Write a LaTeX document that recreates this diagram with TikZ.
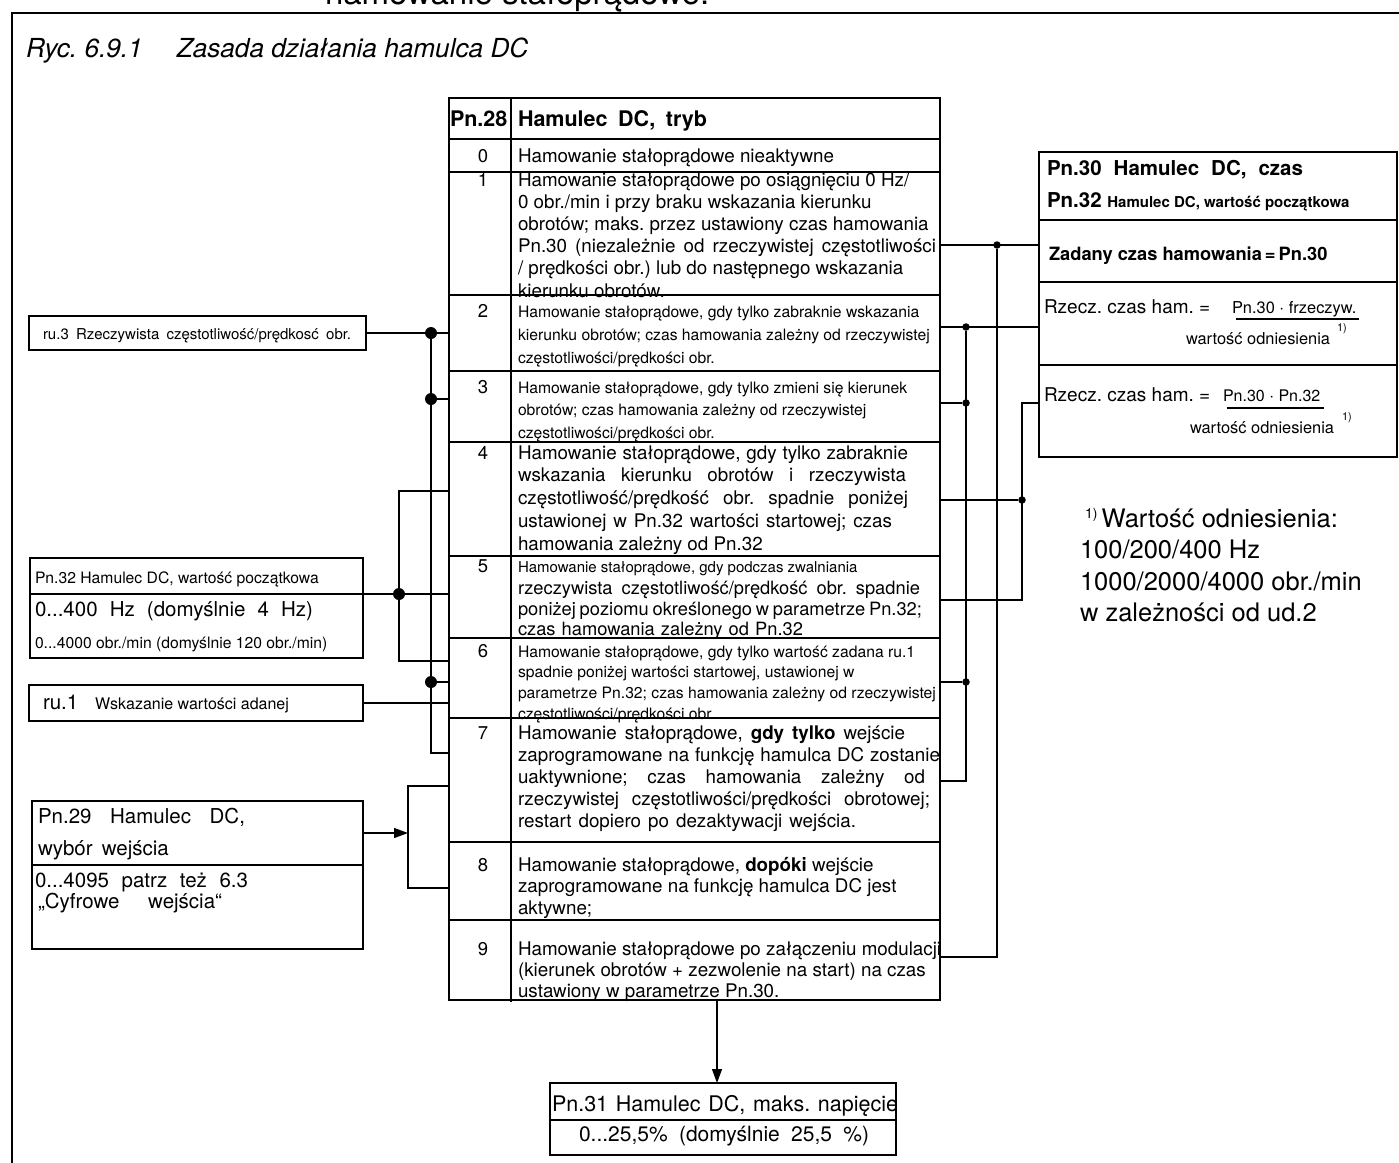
\documentclass[tikz,border=0pt]{standalone}
\usepackage{fontspec}
\setmainfont{TeX Gyre Heros}
\usetikzlibrary{arrows.meta}
\newcommand{\fs}[2]{\fontsize{#1pt}{#2pt}\selectfont}
\newcommand{\jl}[2]{\makebox[#1pt][s]{#2}}
\frenchspacing
\begin{document}
\begin{tikzpicture}[x=1pt,y=-1pt,
  box/.style={draw, line width=1.3pt, inner sep=0pt, outer sep=0pt, anchor=north west},
  txt/.style={anchor=base west, inner sep=0pt, outer sep=0pt},
  num/.style={anchor=base, inner sep=0pt, outer sep=0pt, font=\fs{18.5}{20}},
  ln/.style={line width=1.2pt},
  dot/.style={circle, fill, inner sep=0pt, minimum size=12pt},
  sdot/.style={circle, fill, inner sep=0pt, minimum size=7.5pt},
  arr/.style={ln, -{Triangle[length=14pt,width=10pt]}}]
\useasboundingbox (0,0) rectangle (1399,1162);
% frame and cut text
\draw[line width=2.6pt] (12,1175) -- (12,13) -- (1410,13);
\node[txt] (topcut) at (325,4) {\fs{33}{38}hamowanie stałoprądowe.};
\node[txt] (title) at (26,57) {\fs{26.2}{30}\itshape Ryc. 6.9.1\hspace{34pt}Zasada działania hamulca DC};
% main table
\node[box, minimum width=491pt, minimum height=902pt] (tbl) at (449,98) {};
\draw[ln] (511,98) -- (511,1002);
\foreach \yy in {139,172,295,371,442,556,638,718,842,920} \draw[ln] (449,\yy) -- (940,\yy);
\node[txt] (h1) at (450,126.5) {\fs{21.5}{25}\bfseries Pn.28};
\node[txt] (h2) at (518,126.5) {\fs{21.5}{25}\bfseries\jl{189}{Hamulec DC, tryb}};
\node[num] (n0) at (483,162) {0};
\node[num] (n1) at (483,186) {1};
\node[num] (n2) at (483,317) {2};
\node[num] (n3) at (483,393) {3};
\node[num] (n4) at (483,459) {4};
\node[num] (n5) at (483,572) {5};
\node[num] (n6) at (483,657) {6};
\node[num] (n7) at (483,739) {7};
\node[num] (n8) at (483,871) {8};
\node[num] (n9) at (483,955.5) {9};
\node[txt] (r0) at (518,162) {\fs{18.8}{22}Hamowanie stałoprądowe nieaktywne};
\node[txt] (r1) at (518,186) {\parbox[t]{430pt}{\fs{18.8}{22.2}Hamowanie stałoprądowe po osiągnięciu 0 Hz/\\0 obr./min i przy braku wskazania kierunku\\obrotów; maks. przez ustawiony czas hamowania\\\jl{418}{Pn.30 (niezależnie od rzeczywistej częstotliwości}\\/ prędkości obr.) lub do następnego wskazania\\kierunku obrotów.}};
\node[txt] (r2) at (518,317) {\parbox[t]{430pt}{\fs{15.7}{23}Hamowanie stałoprądowe, gdy tylko zabraknie wskazania\\kierunku obrotów; czas hamowania zależny od rzeczywistej\\częstotliwości/prędkości obr.}};
\node[txt] (r3) at (518,393) {\parbox[t]{430pt}{\fs{15.7}{22.5}Hamowanie stałoprądowe, gdy tylko zmieni się kierunek\\obrotów; czas hamowania zależny od rzeczywistej\\częstotliwości/prędkości obr.}};
\node[txt] (r4) at (518,459) {\parbox[t]{430pt}{\fs{18.8}{22.8}\jl{390}{Hamowanie stałoprądowe, gdy tylko zabraknie}\\\jl{388}{wskazania kierunku obrotów i rzeczywista}\\\jl{390}{częstotliwość/prędkość obr. spadnie poniżej}\\\jl{374}{ustawionej w Pn.32 wartości startowej; czas}\\hamowania zależny od Pn.32}};
\node[txt] (r5) at (518,572) {\parbox[t]{430pt}{\fs{18.3}{20.5}{\fontsize{15}{20.5}\selectfont Hamowanie stałoprądowe, gdy podczas zwalniania}\\[2pt]\jl{402}{rzeczywista częstotliwość/prędkość obr. spadnie}\\\jl{404}{poniżej poziomu określonego w parametrze Pn.32;}\\\jl{285}{czas hamowania zależny od Pn.32}}};
\node[txt] (r6) at (518,657) {\parbox[t]{430pt}{\fs{15.7}{20.8}Hamowanie stałoprądowe, gdy tylko wartość zadana ru.1\\spadnie poniżej wartości startowej, ustawionej w\\parametrze Pn.32; czas hamowania zależny od rzeczywistej\\częstotliwości/prędkości obr.}};
\node[txt] (r7) at (518,739) {\parbox[t]{430pt}{\fs{18.8}{22}\jl{387}{Hamowanie stałoprądowe, \textbf{gdy tylko} wejście}\\\jl{422}{zaprogramowane na funkcję hamulca DC zostanie}\\\jl{407}{uaktywnione; czas hamowania zależny od}\\\jl{412}{rzeczywistej częstotliwości/prędkości obrotowej;}\\\jl{338}{restart dopiero po dezaktywacji wejścia.}}};
\node[txt] (r8) at (518,871) {\parbox[t]{430pt}{\fs{18.8}{21.5}Hamowanie stałoprądowe, \textbf{dopóki} wejście\\zaprogramowane na funkcję hamulca DC jest\\aktywne;}};
\node[txt] (r9) at (518,955.5) {\parbox[t]{430pt}{\fs{18.8}{21}Hamowanie stałoprądowe po załączeniu modulacji\\(kierunek obrotów + zezwolenie na start) na czas\\ustawiony w parametrze Pn.30.}};
% right box Pn.30
\node[box, minimum width=358pt, minimum height=305pt] (p30) at (1039,152) {};
\foreach \yy in {220,282,365} \draw[ln] (1039,\yy) -- (1397,\yy);
\node[txt] (p30a) at (1047,175) {\fs{20.5}{24}\bfseries\jl{256}{Pn.30 Hamulec DC, czas}};
\node[txt] (p30b) at (1047,207) {\fs{20.5}{24}\bfseries Pn.32 \fs{15}{18}Hamulec DC, wartość początkowa};
\node[txt] (p30c) at (1049,260) {\fs{18.3}{22}\bfseries Zadany czas hamowania\,=\,Pn.30};
\node[txt] (f1a) at (1044,313) {\fs{19}{22}Rzecz. czas ham. =};
\node[txt] (f1b) at (1232,313) {\fs{16.4}{20}Pn.30 $\cdot$ frzeczyw.};
\draw[line width=2.8pt] (1236,319) -- (1359,319);
\node[txt] (f1c) at (1337,331) {\fs{11}{13}1)};
\node[txt] (f1d) at (1186,344) {\fs{16.4}{20}wartość odniesienia};
\node[txt] (f2a) at (1044,401) {\fs{19}{22}Rzecz. czas ham. =};
\node[txt] (f2b) at (1223,401) {\fs{16}{20}Pn.30 $\cdot$ Pn.32};
\draw[line width=2.8pt] (1227,408) -- (1324,408);
\node[txt] (f2c) at (1342,420) {\fs{11}{13}1)};
\node[txt] (f2d) at (1190,433) {\fs{16.4}{20}wartość odniesienia};
% footnote
\node[txt] (fn) at (1080,527) {\parbox[t]{320pt}{\fs{25.5}{31.5}\hspace{5pt}\raisebox{9pt}{\fs{14}{16}1)}\,Wartość odniesienia:\\100/200/400 Hz\\1000/2000/4000 obr./min\\w zależności od ud.2}};
% left boxes
\node[box, minimum width=337pt, minimum height=34pt] (ru3) at (29,316) {};
\node[txt] (ru3t) at (43,339) {\fs{15}{18}\jl{308}{ru.3 Rzeczywista częstotliwość/prędkosć obr.}};
\node[box, minimum width=333pt, minimum height=100pt] (p32) at (30,558) {};
\node[txt] (p32a) at (35,583) {\fs{15.7}{18}Pn.32 Hamulec DC, wartość początkowa};
\node[txt] (p32b) at (35,616) {\fs{20.5}{24}\jl{278}{0...400 Hz (domyślnie 4 Hz)}};
\node[txt] (p32c) at (35,648) {\fs{15.7}{18}0...4000 obr./min (domyślnie 120 obr./min)};
\node[box, minimum width=334pt, minimum height=36pt] (ru1) at (29,685) {};
\node[txt] (ru1a) at (43,709) {\fs{20.5}{24}ru.1};
\node[txt] (ru1b) at (95,709) {\fs{16}{19}Wskazanie wartości adanej};
\node[box, minimum width=331pt, minimum height=148pt] (p29) at (32,801) {};
\coordinate (q29) at (32,865);
\draw[ln] (q29) -- (q29 -| p29.east);
\node[txt] (p29a) at (38,823) {\fs{20.5}{24}\jl{207}{Pn.29 Hamulec DC,}};
\node[txt] (p29b) at (38,855) {\fs{20.5}{24}wybór\, wejścia};
\node[txt] (p29c) at (35,887) {\fs{20.5}{24}\jl{213}{0...4095 patrz też 6.3}};
\node[txt] (p29d) at (38,908) {\fs{20.5}{24}\jl{184}{„Cyfrowe wejścia“}};
% Pn.31 box
\node[box, minimum width=346pt, minimum height=72pt] (p31) at (550,1083) {};
\coordinate (q31) at (550,1120);
\draw[ln] (q31) -- (q31 -| p31.east);
\node[txt] (p31a) at (552,1111) {\fs{21.5}{25}\jl{346}{Pn.31 Hamulec DC, maks. napięcie}};
\node[txt] (p31b) at (579,1141) {\fs{21}{25}\jl{290}{0...25,5\% (domyślnie 25,5 \%)}};
% left connectors
\draw[ln] (ru3.east) -- (ru3.east -| tbl.west);
\node[dot] (d1) at (431,333) {};
\node[dot] (d2) at (431,399) {};
\node[dot] (d3) at (431,682) {};
\coordinate (c7) at (431,753);
\draw[ln] (d1) -- (c7) -- (c7 -| tbl.west);
\draw[ln] (d2) -- (d2 -| tbl.west);
\draw[ln] (d3) -- (d3 -| tbl.west);
\coordinate (k0) at (30,594);
\node[dot] (d4) at (399,594) {};
\draw[ln] (k0) -- (k0 -| tbl.west);
\coordinate (k4) at (399,491);
\coordinate (k6) at (399,661);
\draw[ln] (k4 -| tbl.west) -- (k4) -- (k6) -- (k6 -| tbl.west);
\draw[ln] (ru1.east) -- (ru1.east -| tbl.west);
\coordinate (b29) at (408,833);
\coordinate (b7) at (408,786);
\coordinate (b8) at (408,888);
\draw[arr] (p29.east |- b29) -- (b29);
\draw[ln] (b7 -| tbl.west) -- (b7) -- (b8) -- (b8 -| tbl.west);
% right connectors
\node[sdot] (e1) at (997,245) {};
\draw[ln] (e1 -| tbl.east) -- (e1 -| p30.west);
\coordinate (f9) at (997,957);
\draw[ln] (e1) -- (f9) -- (f9 -| tbl.east);
\node[sdot] (e2) at (966,327) {};
\draw[ln] (e2 -| tbl.east) -- (e2 -| p30.west);
\node[sdot] (e3) at (966,403) {};
\draw[ln] (e3 -| tbl.east) -- (e3);
\node[sdot] (e4) at (966,682) {};
\draw[ln] (e4 -| tbl.east) -- (e4);
\coordinate (f7) at (966,781);
\draw[ln] (e2) -- (f7) -- (f7 -| tbl.east);
\coordinate (g1) at (1022,403);
\coordinate (g5) at (1022,600);
\draw[ln] (g1 -| p30.west) -- (g1) -- (g5) -- (g5 -| tbl.east);
\node[sdot] (e5) at (1022,500) {};
\draw[ln] (e5 -| tbl.east) -- (e5);
% arrow down
\coordinate (a0) at (717,1000);
\draw[arr] (a0) -- (a0 |- p31.north);
\end{tikzpicture}
\end{document}
